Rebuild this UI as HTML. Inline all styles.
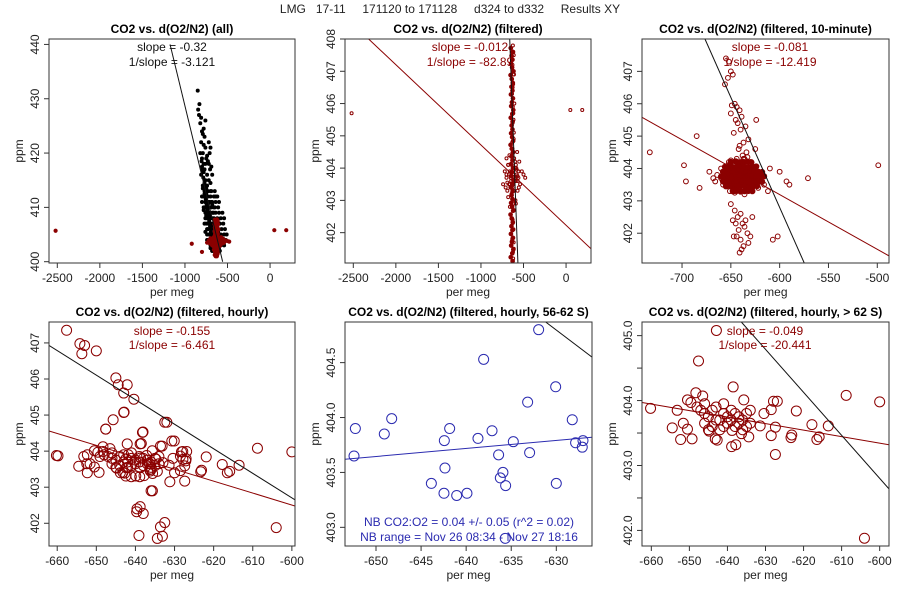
<!DOCTYPE html>
<html><head><meta charset="utf-8">
<style>
body{margin:0;background:#fff;}
svg{display:block;font-family:"Liberation Sans","DejaVu Sans",sans-serif;}
.t{font-weight:bold;font-size:12px;}
.tk{font-size:12px;fill:#222;}
</style></head>
<body>
<svg id="chart" width="900" height="600" viewBox="0 0 900 600">
<rect width="900" height="600" fill="#fff"/>
<text x="450" y="13" text-anchor="middle" font-size="12" fill="#222" xml:space="preserve">LMG   17-11     171120 to 171128     d324 to d332     Results XY</text>
</svg>
<script>
// ---------- data ----------
const p1BlackX=[-850,-830,-845,-835,-810,-820,-800,-790,-770,-780,-810,-750,-760,-790,-800,-770,-740,-780,-810,-760,-720,-790,-750,-700,-770,-730,-800,-760,-710,-680,-740,-780,-700,-660,-750,-720,-680,-640,-770,-730,-700,-650,-620,-760,-600,-720,-680,-590,-740,-560,-600,-790,-720,-700,-690,-760,-800,-740,-660,-780,-820,-805,-795,-785,-775,-765,-755,-745,-735,-725,-715,-705,-695,-685,-675,-665,-655,-645,-635,-625,-615,-605,-595,-585,-575,-800,-780,-760,-740,-720,-700,-680,-660,-640,-620,-600,-770,-750,-730,-710,-690,-670,-650,-630,-610,-590,-790,-770,-750,-730,-710,-690,-670,-650,-630,-610,-730,-705,-780,-740,-700,-660,-620,-760,-720,-680,-640,-710,-690,-670,-650];
const p1BlackY=[431.5,429,428,427,426.5,425.5,424,423.5,423,421.5,422,419,418,420,419,417,416,416.5,416,415,415,414,413.5,413,412.5,412,411,411,411,410.5,410,409.5,409,409,408.5,408,408,407.5,407,407,406.5,406,406.5,405.5,405,405,404.5,404,404,403.5,402.5,413.5,418,421,417.5,421,417.5,414,412,418,420,418.5,417,415.5,414,412.5,411.5,410.5,409.5,408.5,407.5,406.5,405.5,404.8,404.2,403.8,403.4,403,402.8,403.2,403.6,404,404.4,403.8,403.2,412,410,408,406,404,402.5,402,402.2,402.3,402.5,403,415,413,411,409,407,405,403.5,404.5,405.5,402,416.5,414.5,412.5,410.5,408.5,406.5,405,404.5,403,402.8,418.5,417,424.5,419.5,414.5,410,406,426,422,416,412,420,411,409,407.5];
const p1BlackX2=[-770,-730,-690,-650,-780,-740,-700,-620,-760,-720,-680,-640,-600,-770,-730,-690,-650,-610,-760,-720,-680,-640,-600,-560,-740,-700,-660,-620,-580,-540,-750,-710,-670,-630,-590,-550,-730,-690,-650,-610,-570,-530,-740,-700,-660,-620,-580,-540,-510,-720,-680,-640,-600,-560,-520,-700,-660,-620,-580,-540,-680,-640,-600];
const p1BlackY2=[413,413,413,413,412,412,412,412,411,411,411,411,411,410,410,410,410,410,409,409,409,409,409,409,408,408,408,408,408,408,407,407,407,407,407,407,406,406,406,406,406,406,405,405,405,405,405,405,405,404,404,404,404,404,404,403,403,403,403,403,402,402,402];
const p2X=[-625,-615,-630,-612,-622,-635,-608,-620,-628,-614,-632,-618,-610,-640,-600,-660,-580,-650,-590,-670,-630,-610,-620,-612,-628,-618,-632,-615,-622,-625,-700,-560,-680,-570,-640,-600,-620,-626,-616,-624,-620,-614,-628,-618,-630,-612,-626,-616,-624,-620,-645,-595,-660,-585,-2520,50,190];
const p2Y=[407.8,407.5,407.2,406.9,406.6,406.3,406.0,405.7,405.4,405.1,404.8,404.5,404.3,404.1,404.0,403.9,403.8,403.7,403.6,403.5,403.4,403.3,403.0,402.7,402.4,402.1,401.8,401.5,401.2,401.0,403.8,403.9,404.1,403.6,403.2,404.2,406.9,405.9,404.9,403.8,407.6,407.0,406.5,405.5,404.6,402.9,402.3,401.7,401.4,403.5,403.6,403.7,403.9,404.0,405.7,405.8,405.8];
const p2ColX=[-640,-628,-650,-632,-620,-645,-636,-624,-648,-630,-642,-626,-638,-652,-622,-634,-646,-630,-640,-628,-650,-632,-620,-645,-636,-624,-648,-630,-642,-626,-638,-652,-622,-634,-646,-630,-640,-628,-650,-632,-620,-645,-636,-624,-648,-630,-642,-626,-638,-652,-622,-634,-646,-630,-640,-628,-650];
const p2ColY=[401.0,401.12,401.24,401.36,401.48,401.6,401.72,401.84,401.96,402.08,402.2,402.32,402.44,402.56,402.68,402.8,402.92,403.04,403.16,403.28,403.4,403.52,403.64,403.76,403.88,404.0,404.12,404.24,404.36,404.48,404.6,404.72,404.84,404.96,405.08,405.2,405.32,405.44,405.56,405.68,405.8,405.92,406.04,406.16,406.28,406.4,406.52,406.64,406.76,406.88,407.0,407.12,407.24,407.36,407.48,407.6,407.72];
const p2BlobX=[-720,-700,-680,-660,-600,-580,-560,-540,-500,-710,-690,-670,-590,-570,-550,-520,-700,-680,-665,-595,-575,-555,-690,-570,-740,-480,-660,-590];
const p2BlobY=[403.9,403.7,404.1,403.5,403.6,403.95,403.7,403.5,403.8,403.4,403.3,403.8,404.1,403.3,404.2,403.9,404.3,403.1,404.4,403.0,404.5,403.4,403.55,403.75,403.5,403.7,402.8,402.9];
const p1RedExtraX=[-920,-800,-700,-680,-660,-640,-620,-600,-580,-560];
const p1RedExtraY=[403.3,401.8,403.5,403.0,402.2,401.5,402.0,402.8,403.3,403.6];
const p3X=[-650,-645,-640,-635,-630,-625,-655,-660,-648,-642,-638,-632,-628,-652,-646,-644,-636,-634,-622,-658,-650,-645,-640,-635,-630,-625,-655,-660,-648,-642,-638,-632,-628,-652,-646,-636,-634,-664,-620,-650,-643,-637,-641,-647,-633,-639,-653,-657,-631,-627,-649,-644,-654,-640,-636,-629,-646,-651,
-655,-652,-650,-648,-653,-656,-649,-646,-644,-641,-650,-639,-645,-643,-647,-640,-632,-637,-642,-634,-638,-633,-636,-630,-625,-641,-635,
-650,-646,-643,-648,-640,-638,-636,-642,-644,-635,-633,-640,-645,-632,-637,-639,-630,-647,-641,-628,
-733,-698,-696,-685,-682,-672,-610,-600,-593,-590,-571,-499,-607,-602,-624,-666,-668,-616,-612];
const p3Y=[403.7,403.8,403.6,403.9,403.5,403.6,403.8,403.7,404.0,403.4,404.1,403.3,403.9,404.2,403.3,404.3,403.2,404.0,403.4,403.5,403.95,403.45,404.2,403.4,404.1,403.8,403.5,404.0,403.6,403.9,403.7,403.8,403.6,403.9,404.1,403.6,403.7,403.8,403.6,404.25,403.65,404.3,403.85,403.75,403.5,403.55,404.1,403.6,403.95,404.05,403.85,403.55,403.45,403.3,403.95,403.65,403.25,403.3,
407.4,407.3,407.0,406.9,406.8,406.6,405.95,406.0,405.9,405.8,405.7,405.6,405.5,405.4,405.1,405.2,404.9,404.8,404.6,404.5,404.4,404.35,404.3,404.2,404.6,404.7,405.3,
402.9,402.7,402.5,402.4,402.6,402.3,402.2,402.1,401.9,402.4,402.0,401.8,402.3,401.7,401.6,401.5,401.9,401.9,401.4,402.5,
404.5,404.1,403.6,405.0,403.4,403.9,404.0,403.9,403.6,403.5,403.7,404.1,401.8,401.9,405.5,403.6,403.7,403.5,403.3];
const p3BlobX=[-650,-645,-641,-637,-633,-629,
-656,-652,-648,-644,-640,-636,-632,-628,-624,
-658,-654,-650,-646,-642,-638,-634,-630,-626,-622,-618,
-660,-656,-652,-648,-644,-640,-636,-632,-628,-624,-620,-616,
-658,-654,-650,-646,-642,-638,-634,-630,-626,-622,-618,
-655,-651,-647,-643,-639,-635,-631,-627,-623,
-648,-644,-640,-636,-632,-628];
const p3BlobY=[404.2,404.22,404.18,404.2,404.21,404.19,
404.05,404.06,404.04,404.05,404.07,404.05,404.03,404.05,404.06,
403.9,403.91,403.89,403.9,403.92,403.9,403.88,403.9,403.91,403.9,403.89,
403.75,403.76,403.74,403.75,403.77,403.75,403.73,403.75,403.76,403.75,403.74,403.76,
403.6,403.61,403.59,403.6,403.62,403.6,403.58,403.6,403.61,403.6,403.59,
403.45,403.46,403.44,403.45,403.47,403.45,403.43,403.45,403.46,
403.3,403.31,403.29,403.3,403.32,403.3];
const p5X=[-652.29,-652.44,-649.08,-648.26,-642.42,-641.83,-642.35,-643.86,-642.46,-641.05,-639.91,-638.69,-637.13,-636.40,-635.92,-636.21,-635.62,-634.77,-633.18,-632.96,-631.96,-638.06,-630.07,-628.23,-627.86,-627.04,-627.12,-630.00,-635.66];
const p5Y=[403.90,403.65,403.85,403.99,403.79,403.90,403.54,403.40,403.31,403.29,403.31,403.81,403.88,403.66,403.50,403.45,403.38,403.78,404.14,403.68,404.80,404.53,404.28,403.98,403.77,403.79,403.73,403.40,402.90];
const p6X=[-642.9,-647.6,-638.5,-635.7,-648.3,-646.5,-650.5,-649.6,-660.2,-653.2,-651.6,-654.5,-650.5,-652.3,-649.3,-644.8,-643.2,-642.7,-638.9,-637.8,-638.8,-636.3,-634.4,-631.4,-630.4,-628.5,-627.9,-626.9,-628.5,-627.4,-627.4,-623.3,-623.1,-621.9,-617.8,-616.5,-615.9,-613.5,-608.8,-600.0,-604.0,
-648,-646,-645,-644,-643,-642,-641,-640,-639,-638,-637,-636,-635,-634,-644,-642,-640,-638,-636,-646,-641,-639,-637,-645,-643,-647,-635,-634,-646,-641];
const p6Y=[405.08,404.61,404.21,404.01,404.12,404.07,404.01,403.97,403.88,403.85,403.65,403.58,403.56,403.40,403.41,403.53,403.41,403.39,403.29,403.32,403.54,403.49,403.44,403.61,403.80,403.86,403.99,403.99,403.46,403.59,403.17,403.43,403.47,403.84,403.63,403.40,403.44,403.61,404.08,403.98,401.88,
403.9,403.8,403.75,403.85,403.9,403.7,403.8,403.75,403.7,403.8,403.65,403.7,403.6,403.65,403.6,403.55,403.65,403.6,403.55,403.95,403.95,403.85,403.75,403.55,403.7,403.85,403.8,403.85,403.65,403.6];
const p4ExtraX=[-657.6,-654.2,-653.0,-653.7,-650.0,-645.0,-644.4,-642.1,-643.0,-640.4,-643.0,-645.7,-647.6,-632.5,-638.2,-642.1,-638.8,-630.7,-633.6,-636.0,-639.6,-638.8,-639.7,-638.0,-632.5,-633.6,-639.1,-634.4,-633.1,-631.2,-659.8];
const p4ExtraY=[407.35,406.98,406.93,406.70,406.78,406.03,405.84,405.84,405.61,405.44,405.07,404.87,404.61,404.80,404.52,404.20,404.20,404.28,404.14,402.90,402.40,402.46,402.32,402.27,402.02,401.90,401.66,401.58,401.64,403.15,403.87];
// fit lines: [x1,y1,x2,y2] in data units
const p1BlackLine=[-1175,440,-557,400];
const p2RedLine=[-2320,408,293,401.5];
const p2BlackLine=[-662,408,-565,401];
const p3RedLine=[-741,405.58,-488,401.3];
const p3BlackLine=[-676.5,408,-574.8,401.08];
const p4RedLine=[-662.1,404.56,-599.2,402.48];
const p4BlackLine=[-662.1,406.93,-599.2,402.65];
const p5BlueLine=[-653.44,403.62,-626.04,403.82];
const p5BlackLine=[-631.18,404.87,-626.04,404.55];
const p6RedLine=[-662.45,403.97,-597.55,403.32];
const p6BlackLine=[-636.35,405.21,-597.55,402.64];
const xt1=[-2500,-2000,-1500,-1000,-500,0], yt1=[400,410,420,430,440], yt2=[402,403,404,405,406,407,408];
const xt3=[-700,-650,-600,-550,-500], yt3=[402,403,404,405,406,407];
const xt4=[-660,-650,-640,-630,-620,-610,-600], yt4=[402,403,404,405,406,407];
const xt5=[-650,-645,-640,-635,-630], yt5=[403.0,403.5,404.0,404.5];
const yt6=[402.0,402.5,403.0,403.5,404.0,404.5,405.0];

const NS="http://www.w3.org/2000/svg";
const svg=document.getElementById('chart');
const RED="#8b0000", BLUE="#2b2bb0";
function mk(tag,attrs,parent){const e=document.createElementNS(NS,tag);for(const k in attrs)e.setAttribute(k,attrs[k]);(parent||svg).appendChild(e);return e;}

function panel(c){
  const g=mk('g',{});
  
  
  const sx=v=>c.box[0]+(v-c.xl[0])/(c.xl[1]-c.xl[0])*(c.box[2]-c.box[0]);
  const sy=v=>c.box[3]-(v-c.yl[0])/(c.yl[1]-c.yl[0])*(c.box[3]-c.box[1]);
  const cx=(c.box[0]+c.box[2])/2, cy=(c.box[1]+c.box[3])/2;
  const t=mk('text',{x:cx,y:c.box[1]-6,'text-anchor':'middle',class:'t'},g);t.textContent=c.title;
  
  
  const clipId='clip'+c.id;
  const cp=mk('clipPath',{id:clipId},g);mk('rect',{x:c.box[0],y:c.box[1],width:c.box[2]-c.box[0],height:c.box[3]-c.box[1]},cp);
  const inner=mk('g',{'clip-path':'url(#'+clipId+')'},g);
  c.series.forEach(s=>{
    const sg=mk('g',{},inner);
    
    
    for(let i=0;i<s.x.length;i++){
      const pt=mk('circle',{cx:sx(s.x[i]),cy:sy(s.y[i]),r:s.r,fill:s.fill||'none',stroke:s.col,'stroke-width':s.sw||1},sg);
      
      
    }
  });
  c.lines.forEach(l=>{
    const ln=mk('line',{x1:sx(l.d[0]),y1:sy(l.d[1]),x2:sx(l.d[2]),y2:sy(l.d[3]),stroke:l.col,'stroke-width':1},inner);
    
    
  });
  const fr=mk('rect',{x:c.box[0],y:c.box[1],width:c.box[2]-c.box[0],height:c.box[3]-c.box[1],fill:'none',stroke:'#333','stroke-width':1},g);
  
  
  const xa=mk('g',{},g);
  
  
  c.xt.forEach(v=>{const x=sx(v);mk('line',{x1:x,y1:c.box[3],x2:x,y2:c.box[3]+5,stroke:'#333'},xa);
    const tl=mk('text',{x:x,y:c.box[3]+19,'text-anchor':'middle',class:'tk'},xa);tl.textContent=String(v);
    
    });
  const xl=mk('text',{x:cx,y:c.box[3]+33,'text-anchor':'middle',class:'tk'},g);xl.textContent='per meg';
  
  
  const ya=mk('g',{},g);
  
  
  c.yt.forEach(v=>{const y=sy(v);mk('line',{x1:c.box[0]-5,y1:y,x2:c.box[0],y2:y,stroke:'#333'},ya);
    if(c.ylabOnly && Math.round(v)!==v) return;
    const tl=mk('text',{x:c.box[0]-10,y:y,'text-anchor':'middle',class:'tk',transform:`rotate(-90 ${c.box[0]-10} ${y})`},ya);
    tl.textContent=c.ydec?v.toFixed(1):String(v);
    
    });
  const yl=mk('text',{x:c.box[0]-26,y:cy,'text-anchor':'middle',class:'tk',transform:`rotate(-90 ${c.box[0]-26} ${cy})`},g);yl.textContent='ppm';
  
  
  c.notes.forEach(n=>{const tx=mk('text',{x:n.x,y:n.y,'text-anchor':'middle','font-size':'12',fill:n.col},g);tx.textContent=n.t;
    
    });
}

panel({id:1,name:'panel-all',title:'CO2 vs. d(O2/N2) (all)',box:[49,39,295,263],xl:[-2597.5,293],yl:[399.76,441.0],xt:xt1,yt:yt1,
  series:[{name:'all-points',x:p1BlackX.concat(p1BlackX2),y:p1BlackY.concat(p1BlackY2),r:1.5,col:'#000',fill:'#000'},
          {name:'filtered-points',x:p2X.concat(p2ColX,p2BlobX,p1RedExtraX),y:p2Y.concat(p2ColY,p2BlobY,p1RedExtraY),r:1.6,col:RED,fill:RED}],
  lines:[{name:'fit-line-all',d:p1BlackLine,col:'#111'}],
  notes:[{x:172,y:51,t:'slope = -0.32',col:'#111'},{x:172,y:66,t:'1/slope = -3.121',col:'#111'}]});
panel({id:2,name:'panel-filtered',title:'CO2 vs. d(O2/N2) (filtered)',box:[345,39,591,263],xl:[-2597.5,293],yl:[401.06,408.0],xt:xt1,yt:yt2,
  series:[{name:'filtered-points',x:p2X.concat(p2BlobX),y:p2Y.concat(p2BlobY),r:1.5,col:RED},
          {name:'filtered-column-points',x:p2ColX,y:p2ColY,r:1.6,col:RED,fill:RED,sw:1.5}],
  lines:[{name:'fit-line-filtered',d:p2RedLine,col:RED},{name:'fit-line-all',d:p2BlackLine,col:'#111'}],
  notes:[{x:470,y:51,t:'slope = -0.012',col:RED},{x:470,y:66,t:'1/slope = -82.89',col:RED}]});
panel({id:3,name:'panel-10-minute',title:'CO2 vs. d(O2/N2) (filtered, 10-minute)',box:[642,39,889,263],xl:[-741,-488],yl:[401.08,408.0],xt:xt3,yt:yt3,
  series:[{name:'ten-minute-points',x:p3X,y:p3Y,r:2.4,col:RED},
          {name:'ten-minute-core-points',x:p3BlobX,y:p3BlobY,r:2.4,col:RED,fill:RED,sw:1.5}],
  lines:[{name:'fit-line-10min',d:p3RedLine,col:RED},{name:'fit-line-all',d:p3BlackLine,col:'#111'}],
  notes:[{x:770,y:51,t:'slope = -0.081',col:RED},{x:770,y:66,t:'1/slope = -12.419',col:RED}]});
panel({id:4,name:'panel-hourly',title:'CO2 vs. d(O2/N2) (filtered, hourly)',box:[49,322,295,546],xl:[-662.1,-599.2],yl:[401.37,407.58],xt:xt4,yt:yt4,
  series:[{name:'hourly-points',x:p4ExtraX.concat(p5X,p6X),y:p4ExtraY.concat(p5Y,p6Y),r:5,col:RED}],
  lines:[{name:'fit-line-hourly',d:p4RedLine,col:RED},{name:'fit-line-all',d:p4BlackLine,col:'#111'}],
  notes:[{x:172,y:335,t:'slope = -0.155',col:RED},{x:172,y:349,t:'1/slope = -6.461',col:RED}]});
panel({id:5,name:'panel-56-62S',title:'CO2 vs. d(O2/N2) (filtered, hourly, 56-62 S)',box:[345,322,592,546],xl:[-653.44,-626.04],yl:[402.83,404.87],xt:xt5,yt:yt5,ydec:true,
  series:[{name:'hourly-56-62S-points',x:p5X,y:p5Y,r:5,col:BLUE}],
  lines:[{name:'fit-line-56-62S',d:p5BlueLine,col:BLUE},{name:'fit-line-all',d:p5BlackLine,col:'#111'}],
  notes:[{x:469,y:526,t:'NB CO2:O2 = 0.04 +/- 0.05 (r^2 = 0.02)',col:BLUE},{x:469,y:541,t:'NB range = Nov 26 08:34 - Nov 27 18:16',col:BLUE}]});
panel({id:6,name:'panel-gt-62S',title:'CO2 vs. d(O2/N2) (filtered, hourly, > 62 S)',box:[642,322,889,546],xl:[-662.45,-597.55],yl:[401.76,405.21],xt:xt4,yt:yt6,ydec:true,ylabOnly:true,
  series:[{name:'hourly-gt-62S-points',x:p6X,y:p6Y,r:5,col:RED}],
  lines:[{name:'fit-line-gt-62S',d:p6RedLine,col:RED},{name:'fit-line-all',d:p6BlackLine,col:'#111'}],
  notes:[{x:765,y:335,t:'slope = -0.049',col:RED},{x:765,y:349,t:'1/slope = -20.441',col:RED}]});
</script>
</body></html>
